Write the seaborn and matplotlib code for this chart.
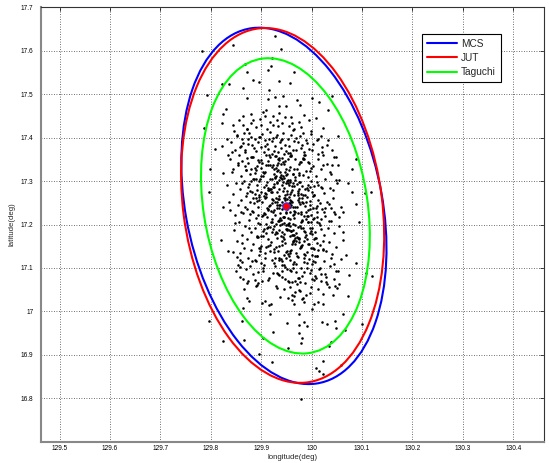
import matplotlib
matplotlib.use("Agg")
import matplotlib.pyplot as plt
from matplotlib.patches import Ellipse
from matplotlib.lines import Line2D
import seaborn as sns
import pandas as pd

# ---------------- data ----------------
x_ticks = [129.5, 129.6, 129.7, 129.8, 129.9, 130.0, 130.1, 130.2, 130.3, 130.4]
x_tick_labels = ['129.5', '129.6', '129.7', '129.8', '129.9', '130', '130.1', '130.2', '130.3', '130.4']
y_ticks = [16.8, 16.9, 17.0, 17.1, 17.2, 17.3, 17.4, 17.5, 17.6, 17.7]
y_tick_labels = ['16.8', '16.9', '17', '17.1', '17.2', '17.3', '17.4', '17.5', '17.6', '17.7']

# error ellipses (centre, full axis lengths in degrees, rotation in degrees)
ell_names = ['MCS', 'JUT', 'Taguchi']
ell_colors = ['#0000ff', '#ff0000', '#00ff00']
ell_center_lon = [129.945, 129.9425, 129.948]
ell_center_lat = [17.243, 17.244, 17.243]
ell_width = [0.3916, 0.3952, 0.3260]
ell_height = [0.8282, 0.8208, 0.6844]
ell_angle = [8.8, 6.3, 7.36]

# nominal position (red dot)
center_lon = [129.949]
center_lat = [17.243]

# Monte Carlo sample points (lon, lat)
pts_upper = [
(129.844,17.613),(129.927,17.634),(129.782,17.600),(129.940,17.604),(129.922,17.584),(129.867,17.570),(129.920,17.566),
(129.914,17.556),(129.884,17.533),(129.895,17.529),(129.864,17.515),(129.837,17.523),(129.871,17.551),(129.936,17.531),(129.822,17.524),(129.966,17.552),(129.958,17.525),
(129.944,17.496),(129.872,17.491),(129.914,17.489),(129.793,17.499),(129.916,17.509),(129.928,17.494),(130.040,17.497),(130.000,17.491),(130.015,17.482),(129.977,17.475),(129.971,17.487),
(129.936,17.472),(129.910,17.464),(129.949,17.472),(129.830,17.466),(130.033,17.464),
(129.923,17.450),(129.948,17.448),(129.825,17.454),(129.823,17.433),(129.855,17.441),(129.864,17.450),(129.880,17.454),(129.884,17.441),(129.880,17.433),(129.864,17.429),(129.844,17.429),(129.890,17.425),(129.900,17.429),(129.923,17.429),(129.942,17.433),(129.786,17.422),(129.908,17.449),
(129.959,17.448),(129.975,17.437),(129.979,17.425),(129.964,17.418),(129.961,17.433),(129.994,17.441),(129.985,17.452),
(129.903,17.460),(129.912,17.420),(129.933,17.427),(130.008,17.445),(130.022,17.423),(129.897,17.443),(129.872,17.421),(129.935,17.458),(129.955,17.428),(129.931,17.441),(129.918,17.437)]

pts_mid_edge = [
(129.808,17.375),(129.858,17.379),(129.864,17.387),(129.874,17.398),(129.887,17.397),(129.897,17.402),(129.907,17.395),(129.916,17.398),(129.929,17.402),(129.942,17.398),(129.989,17.395),(129.973,17.391),(130.012,17.398),(130.032,17.395),(130.021,17.379),(129.995,17.375),(129.969,17.372),
(129.835,17.360),(129.844,17.329),(129.799,17.329),(129.959,17.360),(129.982,17.352),(130.022,17.360),(130.048,17.356),(130.052,17.337),(130.036,17.320),(130.023,17.338),(130.088,17.352),(130.081,17.329),
(130.055,17.302),(130.072,17.295),(130.081,17.275),(130.042,17.279),(130.019,17.287),(130.001,17.275),(129.975,17.298),(129.972,17.268),(129.797,17.275),(130.118,17.275),(130.105,17.272)]

pts_b4 = [
(129.842,17.368),(129.851,17.405),(129.868,17.372),(129.876,17.411),(129.881,17.383),(129.889,17.369),(129.893,17.390),(129.899,17.378),(129.902,17.408),(129.906,17.366),(129.911,17.385),(129.914,17.373),(129.918,17.412),(129.921,17.392),(129.925,17.370),(129.928,17.381),(129.931,17.406),(129.934,17.367),(129.937,17.389),(129.940,17.376),(129.944,17.410),
(129.947,17.384),(129.950,17.369),(129.953,17.398),(129.956,17.381),(129.960,17.407),(129.963,17.371),(129.966,17.392),(129.977,17.405),(129.981,17.383),(129.985,17.368),(129.998,17.409),(130.003,17.386),(130.041,17.371),(130.052,17.404),(129.833,17.396),(129.822,17.381),(129.896,17.401),(129.924,17.399),(129.939,17.395),(129.958,17.365),(129.908,17.380)]

pts_b3 = [
(129.825,17.318),(129.854,17.342),(129.870,17.326),(129.882,17.356),(129.891,17.334),(129.900,17.349),(129.908,17.322),(129.915,17.361),(129.923,17.338),(129.930,17.330),(129.936,17.353),(129.943,17.345),(129.951,17.317),(129.958,17.359),(129.966,17.328),(129.975,17.340),(129.984,17.351),(129.996,17.324),(130.012,17.363),(130.041,17.336),
(129.998,17.330),(129.982,17.353),(129.977,17.345),(129.964,17.317),(129.960,17.359),(129.949,17.328),(129.945,17.340),(129.934,17.351),(129.932,17.324),(129.921,17.363),(129.917,17.336),(129.906,17.318),(129.902,17.342),(129.889,17.326),(129.884,17.356),(129.868,17.334),
(129.893,17.349),(129.938,17.322),(129.986,17.361),(129.913,17.338),(129.956,17.325),(129.872,17.353),(129.947,17.347),(129.974,17.319),(129.929,17.357),(129.899,17.331),(129.995,17.341),(129.953,17.364),(129.880,17.327),(129.967,17.352),(129.925,17.316),(129.910,17.336),
(129.903,17.320),(129.913,17.347),(129.921,17.333),(129.927,17.358),(129.933,17.326),(129.939,17.339),(129.945,17.362),(129.953,17.350),(129.963,17.316),(129.895,17.343),(129.971,17.329),(129.918,17.355),(129.948,17.321),(129.931,17.337),(129.935,17.348),(129.909,17.360),(129.957,17.332),(129.887,17.319),(129.979,17.344),(129.941,17.354),(129.925,17.327),(129.934,17.341)]

pts_b2 = [
(129.983,17.268),(129.833,17.292),(129.959,17.276),(129.890,17.306),(130.020,17.284),(129.931,17.299),(129.908,17.272),(129.944,17.311),(130.004,17.288),(129.916,17.280),(130.049,17.303),(129.862,17.295),(129.966,17.267),(129.938,17.309),(129.878,17.278),(129.992,17.290),(129.951,17.301),(129.899,17.274),(129.974,17.313),(129.923,17.286),
(129.879,17.300),(129.888,17.271),(129.900,17.312),(129.906,17.287),(129.917,17.281),(129.921,17.304),(129.932,17.296),(129.936,17.266),(129.945,17.308),(129.952,17.277),(129.956,17.291),(129.967,17.302),(129.972,17.273),(129.983,17.314),(129.990,17.285),(130.005,17.269),
(129.975,17.282),(129.897,17.305),(129.951,17.270),(129.876,17.293),(129.993,17.310),(129.920,17.276),(129.943,17.298),(129.914,17.285),(130.002,17.266),(129.939,17.307),(129.891,17.279),(129.964,17.296),(129.930,17.312),(129.981,17.289),(129.909,17.271),(129.958,17.302),
(129.911,17.297),(129.921,17.274),(129.928,17.309),(129.935,17.283),(129.941,17.291),(129.947,17.267),(129.953,17.303),(129.961,17.279),(129.971,17.294),(129.903,17.312),(129.979,17.270),(129.926,17.286),(129.957,17.297),(129.939,17.315),(129.943,17.277),(129.917,17.306),(129.965,17.288),(129.895,17.269),(129.987,17.281),(129.949,17.296),
(129.946,17.285),(129.936,17.302),(129.957,17.271),(129.925,17.293),(129.968,17.310),(129.914,17.280),(129.905,17.266),(129.977,17.298),(129.941,17.306),(129.932,17.275),(129.950,17.313),(129.962,17.289),(129.920,17.282),(129.896,17.300),(129.986,17.268),(129.954,17.295),(129.928,17.308),(129.972,17.277),(129.910,17.291),(129.885,17.304),(129.997,17.286),(129.871,17.273),(130.011,17.299)]

pts_b1 = [
(129.944,17.218),(130.010,17.242),(129.905,17.226),(129.972,17.256),(129.839,17.234),(129.957,17.249),(129.998,17.222),(129.929,17.261),(130.026,17.238),(129.884,17.230),(129.980,17.253),(129.937,17.245),(130.055,17.217),(129.922,17.259),(129.950,17.228),(129.868,17.240),(129.989,17.251),(129.965,17.224),(129.896,17.263),(129.914,17.236),
(129.886,17.249),(129.894,17.222),(129.907,17.261),(129.912,17.238),(129.923,17.230),(129.931,17.253),(129.936,17.245),(129.945,17.217),(129.951,17.259),(129.958,17.228),(129.963,17.240),(129.974,17.251),(129.979,17.224),(129.990,17.263),(129.996,17.236),(130.011,17.218),
(129.966,17.232),(129.895,17.257),(129.990,17.219),(129.943,17.244),(129.883,17.262),(129.973,17.227),(129.921,17.250),(130.009,17.239),(129.938,17.216),(129.997,17.255),(129.913,17.233),(129.951,17.247),(129.981,17.260),(129.904,17.221),(129.958,17.241),(129.928,17.252),
(129.917,17.246),(129.927,17.223),(129.935,17.258),(129.941,17.235),(129.947,17.243),(129.953,17.216),(129.959,17.254),(129.967,17.229),(129.977,17.248),(129.909,17.264),(129.985,17.220),(129.932,17.237),(129.962,17.252),(129.945,17.262),(129.949,17.226),(129.923,17.257),(129.971,17.240),(129.901,17.219),(129.993,17.233),(129.955,17.250),
(129.952,17.236),(129.942,17.253),(129.963,17.221),(129.931,17.244),(129.974,17.261),(129.920,17.231),(129.911,17.217),(129.983,17.249),(129.947,17.257),(129.938,17.226),(129.956,17.264),(129.968,17.240),(129.926,17.233),(129.902,17.251),(129.992,17.219),(129.960,17.246),(129.934,17.259),(129.978,17.228),(129.916,17.242),(129.891,17.255),(130.003,17.237),(129.877,17.224),(130.017,17.250),(129.859,17.230),(130.035,17.247),(129.948,17.262),(129.946,17.218),(129.936,17.239),(129.958,17.256),(129.907,17.225),(129.987,17.243)]

pts_b0 = [
(130.006,17.168),(129.876,17.192),(129.965,17.176),(129.922,17.206),(130.063,17.184),(129.937,17.199),(129.892,17.172),(129.980,17.211),(129.952,17.188),(129.997,17.180),(129.847,17.203),(129.973,17.195),(129.913,17.167),(130.034,17.209),(129.945,17.178),(130.018,17.190),(129.930,17.201),(129.958,17.174),(129.988,17.213),(129.904,17.186),
(129.893,17.203),(129.903,17.174),(129.914,17.195),(129.921,17.213),(129.931,17.180),(129.936,17.209),(129.946,17.167),(129.951,17.190),(129.959,17.186),(129.964,17.201),(129.974,17.168),(129.979,17.206),(129.989,17.176),(129.996,17.192),(130.007,17.184),(130.017,17.199),
(129.942,17.183),(129.998,17.205),(129.905,17.190),(129.972,17.169),(130.019,17.212),(129.921,17.183),(129.957,17.197),(129.891,17.174),(129.981,17.208),(129.936,17.187),(130.005,17.166),(129.953,17.201),(129.912,17.193),(129.987,17.171),(129.966,17.214),(129.929,17.182),
(129.925,17.196),(129.935,17.210),(129.943,17.172),(129.949,17.189),(129.955,17.204),(129.961,17.177),(129.967,17.200),(129.975,17.167),(129.985,17.185),(129.917,17.194),(129.993,17.207),(129.940,17.173),(129.970,17.181),(129.953,17.198),(129.957,17.213),(129.931,17.170),(129.979,17.191),(129.909,17.202),(130.001,17.179),(129.963,17.188),
(129.960,17.185),(129.950,17.199),(129.971,17.171),(129.939,17.211),(129.982,17.192),(129.928,17.178),(129.919,17.205),(129.991,17.166),(129.955,17.187),(129.946,17.203),(129.964,17.175),(129.976,17.196),(129.934,17.209),(129.910,17.181),(130.000,17.193),(129.968,17.168),(129.942,17.201),(129.986,17.183),(129.924,17.190),(129.899,17.174),(130.011,17.207)]

pts_bm1 = [
(129.935,17.118),(130.023,17.142),(129.852,17.126),(129.993,17.156),(129.957,17.134),(129.909,17.149),(130.039,17.122),(129.970,17.161),(129.918,17.138),(130.068,17.130),(129.942,17.153),(130.002,17.145),(129.881,17.117),(129.963,17.159),(130.011,17.128),(129.897,17.140),(129.978,17.151),(129.927,17.124),(129.985,17.163),(129.950,17.136),
(129.898,17.145),(129.908,17.124),(129.919,17.159),(129.926,17.136),(129.936,17.151),(129.941,17.117),(129.951,17.140),(129.956,17.128),(129.964,17.163),(129.969,17.134),(129.979,17.149),(129.984,17.122),(129.994,17.156),(130.001,17.130),(130.012,17.142),(130.022,17.161),
(129.986,17.131),(129.917,17.154),(129.958,17.119),(130.022,17.143),(129.941,17.162),(129.971,17.127),(129.896,17.147),(130.003,17.116),(129.934,17.139),(130.010,17.158),(129.949,17.123),(129.976,17.146),(129.908,17.135),(129.967,17.155),(129.994,17.120),(129.926,17.144),
(129.930,17.148),(129.940,17.121),(129.948,17.157),(129.954,17.133),(129.960,17.141),(129.966,17.164),(129.972,17.125),(129.980,17.152),(129.990,17.137),(129.922,17.118),(129.998,17.146),(129.945,17.129),(129.975,17.160),(129.958,17.139),(129.962,17.155),(129.936,17.123),(129.984,17.132),(129.914,17.150),(130.006,17.127)]

pts_bm2 = [
(129.976,17.068),(129.903,17.092),(130.008,17.076),(129.941,17.106),(130.074,17.084),(129.963,17.099),(129.887,17.072),(129.991,17.111),(129.924,17.088),(130.029,17.080),(129.858,17.103),(129.999,17.095),(129.956,17.067),(130.045,17.109),(129.915,17.078),(129.969,17.090),(130.017,17.101),(129.948,17.074),(129.984,17.113),(129.933,17.086),
(129.904,17.099),(129.914,17.072),(129.925,17.111),(129.932,17.088),(129.942,17.080),(129.947,17.103),(129.957,17.095),(129.962,17.067),(129.970,17.109),(129.975,17.078),(129.985,17.090),(129.990,17.101),(130.000,17.074),(130.007,17.113),(130.018,17.086),(130.028,17.068),
(129.936,17.083),(129.946,17.107),(129.954,17.070),(129.960,17.094),(129.966,17.114),(129.972,17.077),(129.978,17.100),(129.986,17.066),(129.996,17.089),(129.928,17.105),(130.004,17.073),(129.951,17.097),(129.981,17.081),(129.964,17.110),(129.968,17.069),(129.942,17.092)]

pts_bm3 = [
(129.920,17.018),(129.996,17.042),(129.961,17.026),(130.034,17.056),(129.938,17.034),(129.974,17.049),(130.013,17.022),(129.892,17.061),(129.989,17.038),(129.953,17.030),(130.050,17.053),(129.968,17.045),(130.004,17.017),(129.929,17.059),(129.981,17.028),(130.022,17.040),(129.946,17.051),(129.908,17.024),(129.971,17.063),(129.965,17.036),(129.977,17.047),(129.985,17.021),(129.957,17.057)]

pts_left_flank = [
(129.866,17.052),(129.889,17.058),(129.872,17.066),(129.901,17.071),(129.858,17.079),(129.883,17.085),(129.894,17.091),(129.869,17.097),(129.877,17.104),(129.905,17.108),(129.862,17.113),(129.888,17.119),(129.873,17.124),(129.896,17.130),(129.857,17.135),(129.880,17.141),(129.866,17.146),(129.899,17.151),(129.884,17.156),(129.851,17.161),(129.872,17.167),(129.893,17.171),(129.861,17.176),(129.879,17.182),
(129.845,17.187),(129.887,17.192),(129.868,17.197),(129.898,17.201),(129.856,17.206),(129.876,17.211),(129.890,17.216),(129.848,17.221),(129.864,17.226),(129.882,17.231),(129.871,17.236),(129.893,17.241),(129.853,17.246),(129.878,17.251),(129.860,17.256),(129.889,17.261),(129.869,17.266),(129.843,17.271),(129.881,17.276),(129.857,17.281),(129.874,17.286),(129.892,17.291),(129.850,17.296),(129.866,17.301),
(129.884,17.306),(129.859,17.311),(129.877,17.316),(129.842,17.321),(129.869,17.326),(129.887,17.331),(129.853,17.336),(129.874,17.341),(129.861,17.346),(129.838,17.351),(129.880,17.356),(129.856,17.361),(129.868,17.366),(129.847,17.371),(129.885,17.376),(129.859,17.381),(129.873,17.386),(129.841,17.391),(129.862,17.396),(129.879,17.401),(129.852,17.406),(129.866,17.411),(129.845,17.416),(129.871,17.421)]

pts_right_flank = [
(130.012,17.051),(129.998,17.057),(130.031,17.063),(130.018,17.069),(130.044,17.074),(130.006,17.081),(130.027,17.087),(130.052,17.093),(130.015,17.098),(130.036,17.104),(130.001,17.110),(130.024,17.116),(130.058,17.121),(130.011,17.127),(130.040,17.132),(130.029,17.138),(130.004,17.143),(130.049,17.149),(130.017,17.154),(130.034,17.160),(130.063,17.165),(130.008,17.170),(130.025,17.176),
(130.044,17.181),(129.999,17.186),(130.032,17.192),(130.055,17.197),(130.014,17.203),(130.038,17.208),(130.003,17.213),(130.027,17.219),(130.047,17.224),(130.010,17.230),(130.020,17.235),(130.059,17.240),(129.996,17.246),(130.031,17.251),(130.013,17.257),(130.042,17.262),(130.005,17.268),(130.024,17.273),(129.993,17.279),(130.036,17.284),(130.012,17.290),(130.050,17.295),
(129.998,17.301),(130.027,17.306),(130.008,17.312),(130.039,17.317),(129.989,17.323),(130.018,17.328),(130.003,17.334),(130.031,17.339),(129.993,17.345),(130.012,17.350),(130.045,17.355),(129.985,17.361),(130.021,17.366),(130.000,17.372),(129.978,17.377),(130.030,17.383),(129.991,17.388),(130.010,17.394),(129.970,17.399),(130.018,17.405),(129.983,17.410),(129.998,17.416),(129.965,17.421)]

pts_lower = [
(129.825,17.241),(129.837,17.252),(129.989,17.229),(130.005,17.214),(130.025,17.229),(130.038,17.237),(130.045,17.229),(130.062,17.229),(130.089,17.248),(130.095,17.206),(129.992,17.206),
(129.820,17.165),(129.835,17.138),(129.844,17.136),(129.861,17.158),(129.858,17.119),(129.854,17.106),(129.850,17.092),(129.864,17.075),(129.874,17.069),(129.871,17.031),(129.893,17.065),(129.931,17.054),(129.900,17.112),(129.890,17.115),(129.916,17.015),(129.902,17.019),(129.864,17.008),
(130.088,17.112),(130.055,17.062),(130.047,17.058),(130.072,17.035),(130.108,17.088),(130.120,17.081),(130.048,17.092),(130.042,17.038),(129.962,17.038),(129.982,17.031),
(129.797,16.978),(129.824,16.931),(129.862,16.978),(129.866,16.935),(129.876,17.023),(129.904,16.939),(129.896,16.903),(129.921,16.884),(129.924,16.953),(129.918,16.994),(129.951,16.974),(129.954,16.915),(129.974,16.968),(129.974,16.951),(129.984,16.976),(129.990,16.966),(129.981,16.938),(129.979,16.928),(129.966,17.018),(129.975,16.994),(130.000,17.005),(130.020,16.976),(130.030,16.972),(130.047,16.978),(130.049,16.961),(130.063,16.994),(130.066,16.957),(130.039,16.930),(130.035,16.921),(130.022,16.885),(130.009,16.869),(130.015,16.862),(130.022,16.855),(130.058,16.876),(130.100,16.971),(130.023,17.018),(129.979,16.798)]

# ---------------- figure ----------------
sns.set_theme(style="white")
plt.rcParams['font.family'] = ['Liberation Sans', 'DejaVu Sans']

all_pts = (pts_upper + pts_mid_edge + pts_b4 + pts_b3 + pts_b2 + pts_b1 + pts_b0
           + pts_bm1 + pts_bm2 + pts_bm3 + pts_left_flank + pts_right_flank + pts_lower)
df = pd.DataFrame(all_pts, columns=['lon', 'lat'])

fig = plt.figure(figsize=(5.49, 4.63), dpi=100)
fig.patch.set_facecolor('white')
ax = fig.add_axes([0.0747, 0.046, 0.9156, 0.938])
ax.set_facecolor('white')

sns.scatterplot(data=df, x='lon', y='lat', s=3.4, color='black', linewidth=0,
                marker='o', ax=ax, legend=False, zorder=2)

for i in range(len(ell_names)):
    ax.add_patch(Ellipse((ell_center_lon[i], ell_center_lat[i]), ell_width[i], ell_height[i],
                         angle=ell_angle[i], fill=False, edgecolor=ell_colors[i],
                         lw=1.5, zorder=3))

ax.plot(center_lon, center_lat, 'o', ms=5.4, mfc='#ff0000', mec='#3030ff', mew=0.7, zorder=5)

ax.set_xlim(129.463, 130.4605)
ax.set_ylim(16.7, 17.7)
ax.set_xticks(x_ticks)
ax.set_xticklabels(x_tick_labels)
ax.set_yticks(y_ticks)
ax.set_yticklabels(y_tick_labels)
ax.grid(True, linestyle=(0, (1, 2)), color='0.25', lw=0.6)
ax.set_axisbelow(True)
ax.tick_params(axis='both', which='both', direction='in', length=3, width=0.5,
               labelsize=4.7, colors='black', top=True, right=True)
ax.tick_params(axis='x', pad=2.4)
ax.tick_params(axis='y', pad=5.5)
for side in ['left', 'bottom']:
    ax.spines[side].set_color('#888888')
    ax.spines[side].set_linewidth(1.5)
for side in ['top', 'right']:
    ax.spines[side].set_color('#333333')
    ax.spines[side].set_linewidth(0.8)

ax.set_xlabel('longitude(deg)', fontsize=5.6, labelpad=1.5)
ax.set_ylabel('latitude(deg)', fontsize=5.6, labelpad=4)

handles = [Line2D([0], [0], color=c, lw=1.5) for c in ell_colors]
leg = ax.legend(handles, ell_names, loc='upper left', bbox_to_anchor=(0.757, 0.939),
                fontsize=7.3, frameon=True, fancybox=False, edgecolor='black',
                framealpha=1, handlelength=3.0, borderpad=0.5, labelspacing=0.4,
                handletextpad=0.4, borderaxespad=0)
leg.get_frame().set_linewidth(0.8)

fig.savefig('out.png', dpi=100)
